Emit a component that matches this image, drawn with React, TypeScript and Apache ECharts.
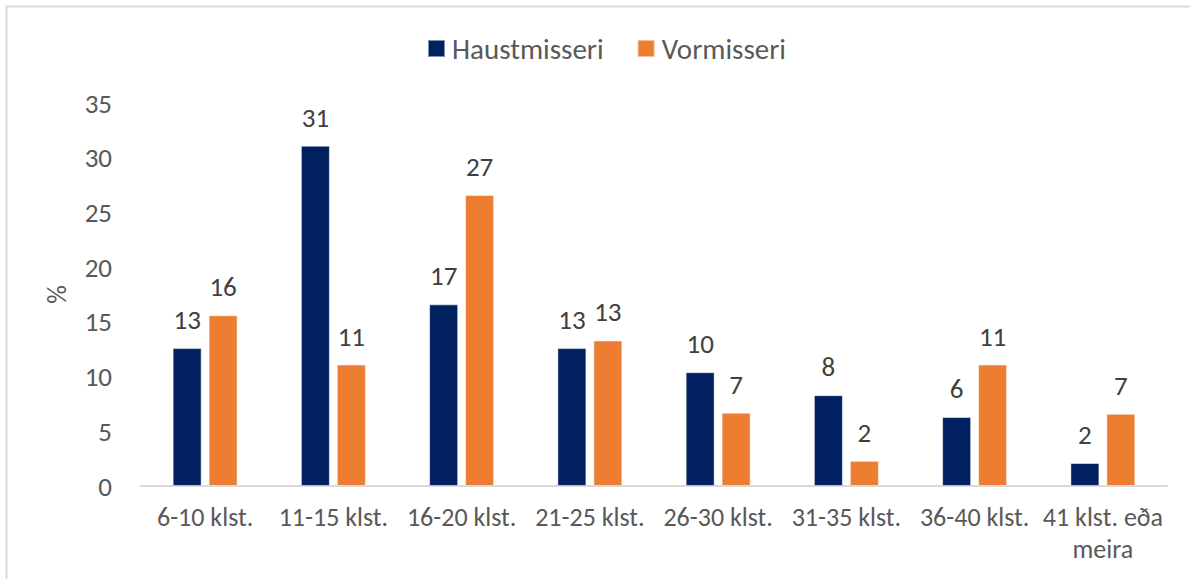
import React, { useEffect, useRef } from "react";
import * as echarts from "echarts";

const categories = [
  "6-10 klst.",
  "11-15 klst.",
  "16-20 klst.",
  "21-25 klst.",
  "26-30 klst.",
  "31-35 klst.",
  "36-40 klst.",
  "41 klst. eða\nmeira",
];
const haustmisseri = [12.6, 31.1, 16.6, 12.6, 10.4, 8.3, 6.3, 2.1];
const vormisseri = [15.6, 11.1, 26.6, 13.3, 6.7, 2.3, 11.1, 6.6];
const yTicks = { min: 0, max: 35, interval: 5 };

const FONT = "Carlito, Calibri, Lato, sans-serif";

export default function App() {
  const ref = useRef<HTMLDivElement>(null);
  useEffect(() => {
    if (!ref.current) return;
    const chart = echarts.init(ref.current, undefined, { renderer: "svg" });
    const labelStyle = {
      show: true,
      position: "top" as const,
      distance: 15,
      color: "#404040",
      fontSize: 27,
      fontFamily: FONT,
      formatter: (p: any) => String(Math.round(p.value)),
    };
    chart.setOption({
      animation: false,
      backgroundColor: "#ffffff",
      textStyle: { fontFamily: FONT },
      graphic: [
        {
          type: "rect",
          shape: { x: 6.5, y: 6.5, width: 1300, height: 700 },
          style: { fill: "none", stroke: "#d9d9d9", lineWidth: 2 },
          silent: true,
        },
      ],
      legend: {
        left: 427,
        top: 34,
        padding: 0,
        itemWidth: 17,
        itemHeight: 17,
        itemGap: 33,
        icon: "rect",
        textStyle: { fontSize: 29, color: "#595959", fontFamily: FONT, padding: [0, 0, 0, 2] },
        data: ["Haustmisseri", "Vormisseri"],
      },
      grid: { left: 141, right: 23, top: 103, bottom: 93, containLabel: false },
      xAxis: {
        type: "category",
        data: categories,
        axisLine: { show: true, lineStyle: { color: "#d9d9d9", width: 2 } },
        axisTick: { show: false },
        axisLabel: {
          color: "#595959",
          fontSize: 26,
          fontFamily: FONT,
          margin: 15,
          lineHeight: 32,
          interval: 0,
        },
      },
      yAxis: {
        type: "value",
        min: yTicks.min,
        max: yTicks.max,
        interval: yTicks.interval,
        name: "%",
        nameLocation: "middle",
        nameGap: 71,
        nameRotate: 90,
        nameTextStyle: { color: "#595959", fontSize: 26, fontFamily: FONT },
        axisLine: { show: false },
        axisTick: { show: false },
        splitLine: { show: false },
        axisLabel: { color: "#595959", fontSize: 27, fontFamily: FONT, margin: 29 },
      },
      series: [
        {
          name: "Haustmisseri",
          type: "bar",
          data: haustmisseri,
          barWidth: 29,
          barGap: "24%",
          itemStyle: { color: "#002060", borderColor: "rgba(255,255,255,0.5)", borderWidth: 1 },
          label: labelStyle,
        },
        {
          name: "Vormisseri",
          type: "bar",
          data: vormisseri,
          barWidth: 29,
          barGap: "24%",
          itemStyle: { color: "#ED7D31", borderColor: "rgba(255,255,255,0.5)", borderWidth: 1 },
          label: labelStyle,
        },
      ],
    });
    return () => chart.dispose();
  }, []);
  return (
    <div
      ref={ref}
      style={{ position: "fixed", left: 0, top: 0, width: 1190, height: 579 }}
    />
  );
}
